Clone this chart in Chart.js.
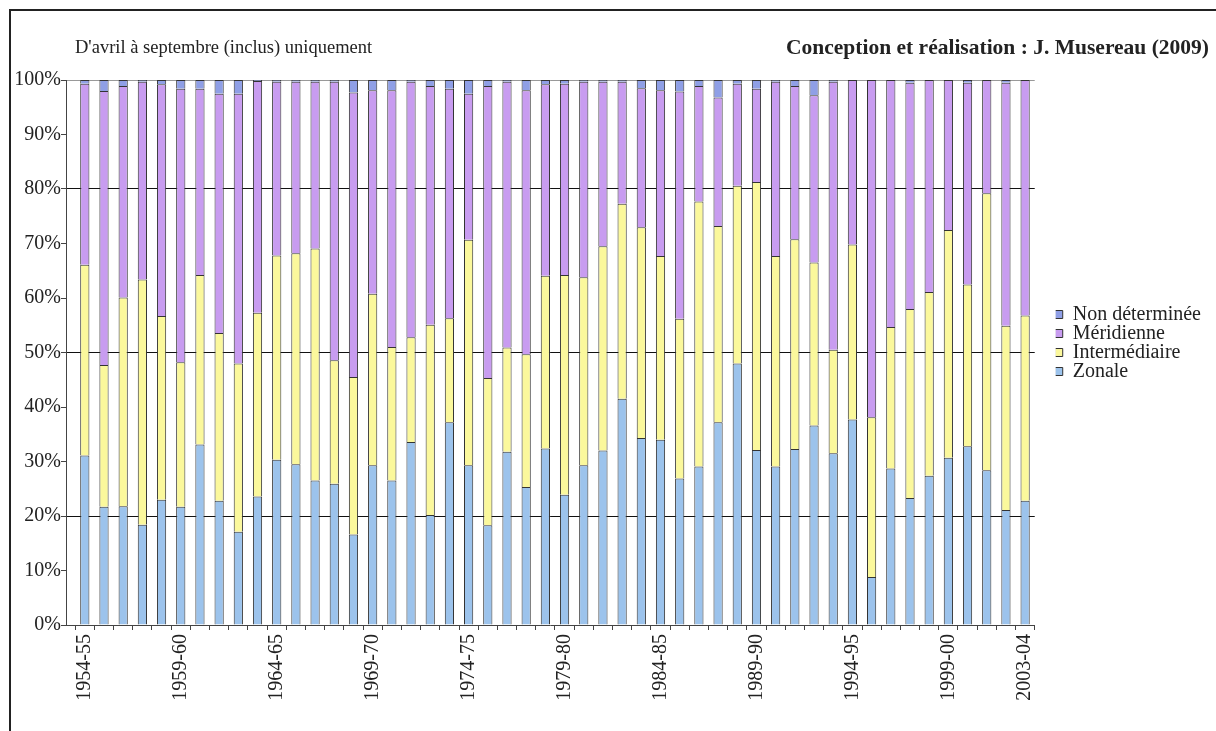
<!DOCTYPE html>
<html>
<head>
<meta charset="utf-8">
<script src="https://cdn.jsdelivr.net/npm/chart.js@4.4.0/dist/chart.umd.min.js"></script>
<style>
  body { margin: 0; background: #fff; }
  #wrap { position: relative; width: 1216px; height: 731px; overflow: hidden; }
  #frame { position: absolute; left: 9px; top: 9px; width: 1205px; height: 740px;
           border-top: 2px solid #222; border-left: 2px solid #222; border-right: 1px solid #ccc; }
  #chart { position: absolute; left: 0; top: 0; }
  .note { position: absolute; font-family: "Liberation Serif", serif; color: #222; white-space: nowrap; }
</style>
</head>
<body>
<div id="wrap">
  <div id="frame"></div>
  <canvas id="chart" width="1216" height="731"></canvas>
  <div class="note" style="left:75px;top:38px;font-size:18.5px;line-height:19px;">D'avril à septembre (inclus) uniquement</div>
  <div class="note" style="right:7px;top:36px;font-size:21.5px;line-height:22px;font-weight:bold;">Conception et réalisation : J. Musereau (2009)</div>
</div>
<script>
// seasons, April to September only
const seasons = [
  "1954-55", "1955-56", "1956-57", "1957-58", "1958-59", "1959-60", "1960-61", "1961-62", "1962-63", "1963-64",
  "1964-65", "1965-66", "1966-67", "1967-68", "1968-69", "1969-70", "1970-71", "1971-72", "1972-73", "1973-74",
  "1974-75", "1975-76", "1976-77", "1977-78", "1978-79", "1979-80", "1980-81", "1981-82", "1982-83", "1983-84",
  "1984-85", "1985-86", "1986-87", "1987-88", "1988-89", "1989-90", "1990-91", "1991-92", "1992-93", "1993-94",
  "1994-95", "1995-96", "1996-97", "1997-98", "1998-99", "1999-00", "2000-01", "2001-02", "2002-03", "2003-04"
];

// shares in %
const zonale = [
  31.1, 21.7, 21.8, 18.4, 23.0, 21.7, 33.1, 22.8, 17.1, 23.6,
  30.3, 29.5, 26.5, 25.9, 16.6, 29.3, 26.5, 33.6, 20.2, 37.2,
  29.3, 18.3, 31.8, 25.3, 32.4, 23.9, 29.3, 32.0, 41.5, 34.3,
  34.0, 26.9, 29.1, 37.2, 48.0, 32.1, 29.1, 32.3, 36.6, 31.5,
  37.7, 8.8, 28.7, 23.3, 27.4, 30.7, 32.8, 28.4, 21.1, 22.8
];
const intermediaire = [
  35.0, 26.0, 38.3, 45.0, 33.7, 26.5, 31.1, 30.8, 30.9, 33.7,
  37.5, 38.7, 42.6, 22.7, 28.9, 31.5, 24.5, 19.2, 34.9, 19.1,
  41.4, 27.0, 19.1, 24.4, 31.7, 40.3, 34.5, 37.5, 35.8, 38.7,
  33.7, 29.3, 48.6, 36.0, 32.6, 49.2, 38.6, 38.5, 29.9, 19.0,
  32.1, 29.3, 26.0, 34.7, 33.7, 41.8, 29.7, 50.8, 33.8, 34.0
];
const meridienne = [
  33.2, 50.3, 38.8, 36.3, 42.5, 50.2, 34.2, 43.9, 49.5, 42.5,
  31.9, 31.5, 30.6, 51.1, 52.2, 37.3, 47.1, 46.9, 43.8, 42.1,
  26.8, 53.6, 48.8, 48.4, 35.1, 35.1, 35.9, 30.2, 22.4, 25.5,
  30.4, 41.7, 21.2, 23.6, 18.7, 17.1, 32.0, 28.1, 30.7, 49.2,
  30.2, 61.9, 45.3, 41.5, 38.9, 27.5, 37.0, 20.8, 44.6, 43.2
];
const nonDeterminee = [
  0.7, 2.0, 1.1, 0.3, 0.8, 1.6, 1.6, 2.5, 2.5, 0.2,
  0.3, 0.3, 0.3, 0.3, 2.3, 1.9, 1.9, 0.3, 1.1, 1.6,
  2.5, 1.1, 0.3, 1.9, 0.8, 0.7, 0.3, 0.3, 0.3, 1.5,
  1.9, 2.1, 1.1, 3.2, 0.7, 1.6, 0.3, 1.1, 2.8, 0.3,
  0, 0, 0, 0.5, 0, 0, 0.5, 0, 0.5, 0
];
const yTicks = [0, 10, 20, 30, 40, 50, 60, 70, 80, 90, 100];
const boldGrid = [20, 50, 80];

const serif = "'Liberation Serif', 'Times New Roman', serif";

function bar(label, data, color) {
  return {
    label: label,
    data: data,
    backgroundColor: color,
    borderColor: "#333",
    borderWidth: 1,
    categoryPercentage: 1,
    barPercentage: 0.48
  };
}

// legend sits a little right of the plot and centred around y=342 in the original
const legendPlace = {
  id: "legendPlace",
  afterLayout(chart) {
    const lg = chart.legend;
    const w = lg.right - lg.left, h = lg.bottom - lg.top;
    lg.left = chart.chartArea.right + 21; lg.right = lg.left + w;
    lg.top = (686 - h) / 2; lg.bottom = lg.top + h;
  }
};

new Chart(document.getElementById("chart"), {
  type: "bar",
  data: {
    labels: seasons,
    datasets: [
      bar("Zonale", zonale, "#9cc3ec"),
      bar("Intermédiaire", intermediaire, "#fbf89c"),
      bar("Méridienne", meridienne, "#c89cf0"),
      bar("Non déterminée", nonDeterminee, "#8f9fe6")
    ]
  },
  options: {
    responsive: false,
    animation: false,
    layout: { padding: { top: 80, left: 0, right: 26, bottom: 0 } },
    plugins: {
      tooltip: { enabled: false },
      legend: {
        position: "right",
        reverse: true,
        labels: {
          boxWidth: 8,
          boxHeight: 8,
          padding: -1,
          color: "#222",
          font: { family: serif, size: 20 }
        }
      }
    },
    scales: {
      x: {
        stacked: true,
        afterFit(scale) { scale.height = 106; },
        // the original leaves almost a full category of room before the first bar
        afterBuildTicks(scale) {
          scale._startValue = -0.98;
          scale._valueRange = seasons.length + 0.48;
        },
        grid: { offset: true, drawOnChartArea: false, drawTicks: true, tickLength: 5, color: "#444" },
        border: { color: "#444", width: 1 },
        ticks: {
          autoSkip: false,
          minRotation: 90,
          maxRotation: 90,
          padding: 4,
          color: "#222",
          font: { family: serif, size: 20 },
          callback: (v, i) => (i % 5 === 0 || i === seasons.length - 1) ? seasons[i] : ""
        }
      },
      y: {
        stacked: true,
        min: 0,
        max: 100,
        afterFit(scale) { scale.width = 66; },
        afterBuildTicks(scale) { scale.ticks = yTicks.map(v => ({ value: v })); },
        grid: {
          color: ctx => boldGrid.includes(ctx.tick.value) ? "#111" : (ctx.tick.value === 100 ? "#999" : "rgba(0,0,0,0)"),
          tickColor: "#444",
          tickLength: 5
        },
        border: { color: "#444", width: 1 },
        ticks: {
          padding: 0,
          color: "#222",
          font: { family: serif, size: 20 },
          callback: v => v + "%"
        }
      }
    }
  },
  plugins: [legendPlace]
});
</script>
</body>
</html>
